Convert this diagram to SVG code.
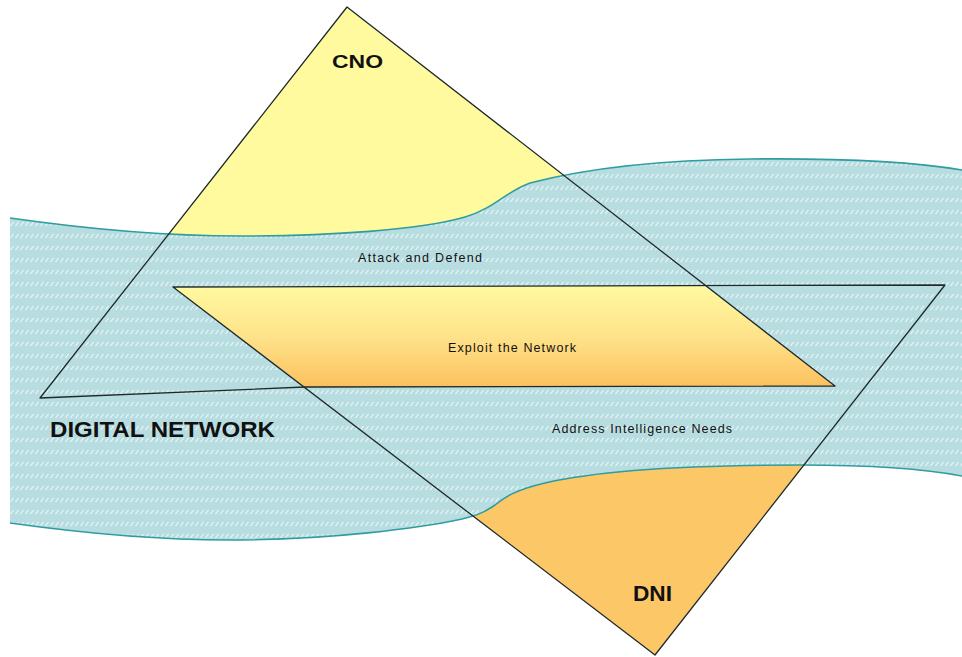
<svg xmlns="http://www.w3.org/2000/svg" width="962" height="657" viewBox="0 0 962 657">
<defs>
<pattern id="hatch" width="5" height="12" patternUnits="userSpaceOnUse">
<rect width="5" height="12" fill="#b8dde1"/>
<line x1="0.5" y1="10" x2="3.5" y2="6" stroke="#ffffff" stroke-width="1.1" stroke-opacity="0.75"/>
</pattern>
<linearGradient id="exploitGrad" x1="0" y1="0" x2="0" y2="1">
<stop offset="0" stop-color="#fff9a0"/>
<stop offset="0.5" stop-color="#fee38a"/>
<stop offset="1" stop-color="#fcc05e"/>
</linearGradient>
</defs>
<style>
.outline{fill:none;stroke:#1f2a2a;stroke-width:1.3;stroke-linejoin:round}
.bandEdge{fill:none;stroke:#2f9d9f;stroke-width:1.6}
.big{font-family:"Liberation Sans",Arial,sans-serif;font-weight:bold;fill:#111}
.small{font-family:"Liberation Sans",Arial,sans-serif;font-size:12.5px;fill:#111}
</style>
<rect width="962" height="657" fill="#ffffff"/>
<g id="cno-fill">
<polygon points="347,7 835,386 305,387 40,398" fill="#fffa9e"/>
</g>
<g id="dni-fill">
<polygon points="173,287 945,285 655,655" fill="#fcc767"/>
</g>
<g id="digital-network">
<path d="M10,218 C80,228 160,236 240,236 C330,236 420,230 465,217 C495,208 505,192 530,183 C580,170 650,160 750,159 C850,158 920,163 962,170 L962,476 C920,468 870,465 800,465 C700,465 600,470 545,483 C515,490 505,497 495,505 C485,512 478,515 462,519 C420,528 330,540 230,540 C140,540 60,530 10,523 Z" fill="url(#hatch)"/>
<path class="bandEdge" d="M10,218 C80,228 160,236 240,236 C330,236 420,230 465,217 C495,208 505,192 530,183 C580,170 650,160 750,159 C850,158 920,163 962,170"/>
<path class="bandEdge" d="M962,476 C920,468 870,465 800,465 C700,465 600,470 545,483 C515,490 505,497 495,505 C485,512 478,515 462,519 C420,528 330,540 230,540 C140,540 60,530 10,523"/>
<text class="big" x="50" y="437" font-size="22" textLength="225" lengthAdjust="spacingAndGlyphs">DIGITAL NETWORK</text>
</g>
<g id="exploit">
<polygon points="173,287 705,286 835,386 305,387" fill="url(#exploitGrad)"/>
<text class="small" x="448" y="352" textLength="128" lengthAdjust="spacing">Exploit the Network</text>
</g>
<g id="connectors">
<polygon class="outline" points="347,7 835,386 305,387 40,398"/>
<polygon class="outline" points="173,287 945,285 655,655"/>
</g>
<g id="cno">
<text class="big" x="332" y="68" font-size="19" textLength="51" lengthAdjust="spacingAndGlyphs">CNO</text>
</g>
<g id="attack">
<text class="small" x="358" y="262" textLength="124" lengthAdjust="spacing">Attack and Defend</text>
</g>
<g id="address">
<text class="small" x="552" y="433" textLength="180" lengthAdjust="spacing">Address Intelligence Needs</text>
</g>
<g id="dni">
<text class="big" x="633" y="601" font-size="22" textLength="39" lengthAdjust="spacingAndGlyphs">DNI</text>
</g>
</svg>
